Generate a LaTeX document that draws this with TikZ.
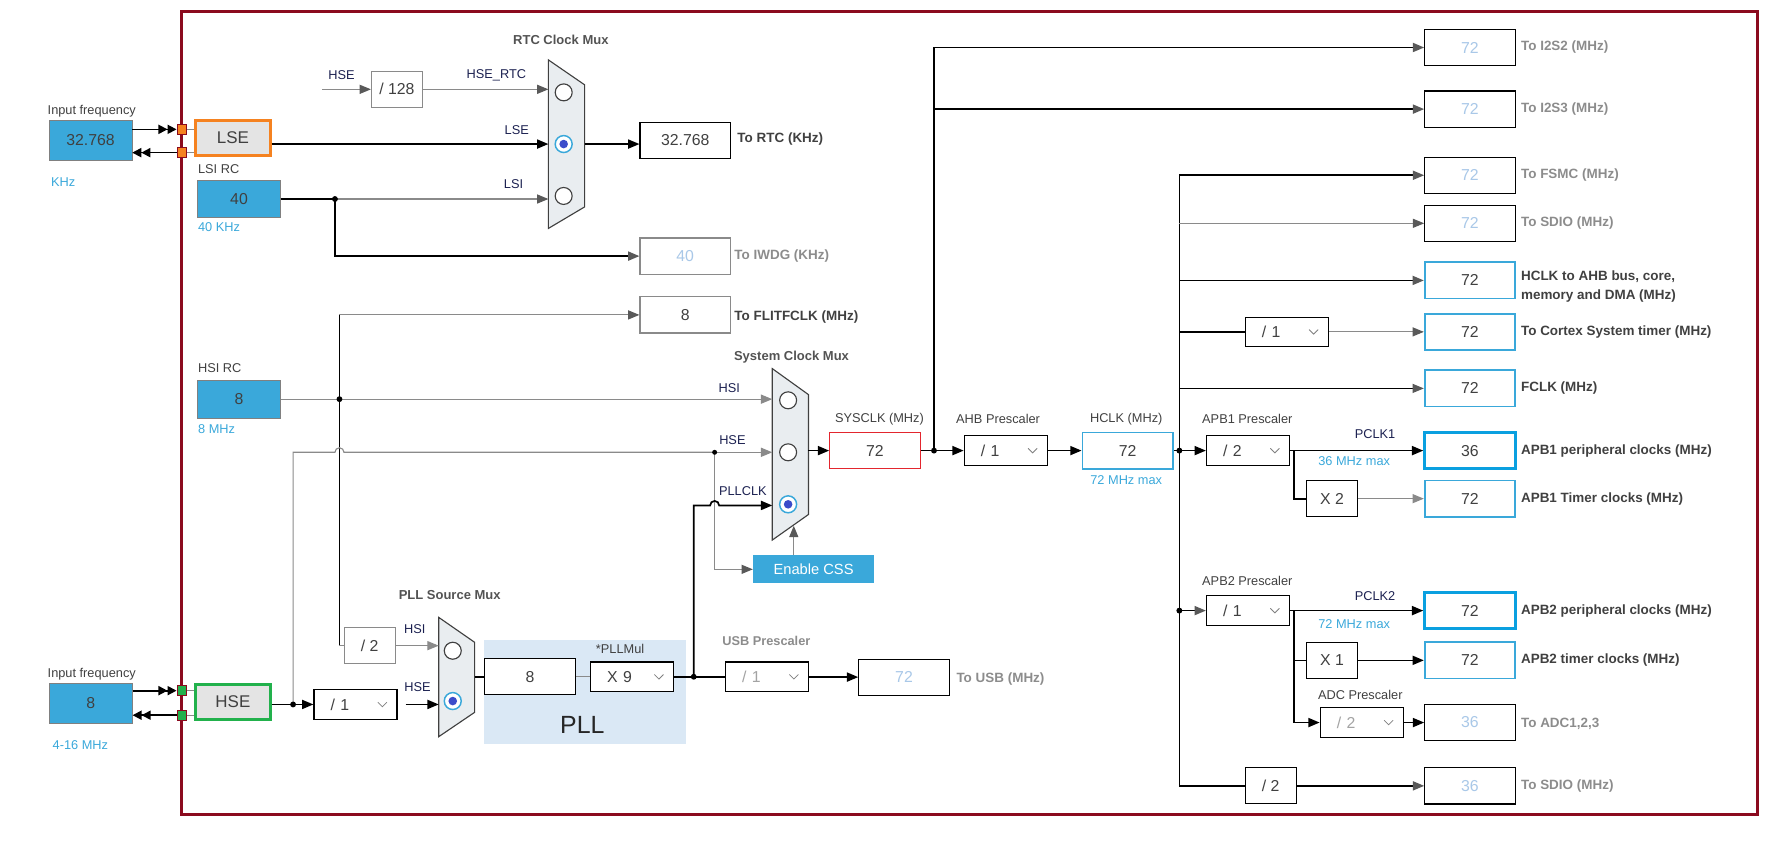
\documentclass[tikz,border=0pt]{standalone}
\usepackage{fontspec}
\setmainfont{Liberation Sans}
\usetikzlibrary{arrows.meta,positioning}
\definecolor{framered}{HTML}{8B0A1E}
\definecolor{stblue}{HTML}{3AA8DA}
\definecolor{valoff}{HTML}{A9C8E8}
\definecolor{lblgray}{HTML}{404040}
\definecolor{offgray}{HTML}{8C8C8C}
\definecolor{wire}{HTML}{8A8A8A}
\definecolor{tipgray}{HTML}{595959}
\definecolor{navy}{HTML}{1B2050}
\definecolor{muxfill}{HTML}{E9EDF0}
\definecolor{pllfill}{HTML}{DAE8F5}
\definecolor{lsecol}{HTML}{F58220}
\definecolor{hsecol}{HTML}{22B14C}
\definecolor{oscfill}{HTML}{E4E4E4}
\definecolor{sysred}{HTML}{E3262E}
\definecolor{pclkblue}{HTML}{0AA0E0}
\definecolor{selblue}{HTML}{3B4CCA}
\definecolor{chev}{HTML}{808080}
\begin{document}
\begin{tikzpicture}[x=1pt,y=-1pt,
    live/.style={line width=1.5pt},
    idle/.style={line width=1pt,draw=wire},
    arr/.style={-{Triangle[length=10pt,width=8pt]}},
    garr/.style={-{Triangle[length=10pt,width=8pt,color=tipgray]}},
    darr/.style={-{Triangle[length=8pt,width=8pt]Triangle[length=8pt,width=8pt]}},
    valbox/.style={draw,line width=1pt,fill=white,minimum width=80pt,minimum height=32pt,font=\fontsize{14}{14}\selectfont,text=lblgray},
    offbox/.style={valbox,text=valoff},
    outbox/.style={valbox,draw=stblue,line width=1.6pt},
    pclkbox/.style={valbox,draw=pclkblue,line width=2.6pt},
    srcbox/.style={draw=gray,fill=stblue,minimum width=73.5pt,minimum height=33pt,font=\fontsize{14}{14}\selectfont,text=lblgray},
    oscbox/.style={fill=oscfill,line width=2.6pt,minimum width=66pt,minimum height=31pt,font=\fontsize{15}{15}\selectfont,text=lblgray},
    padsq/.style={draw=framered,fill=#1,line width=0.8pt,minimum size=8.5pt},
    padsq/.default=lsecol,
    divbox/.style={draw,line width=0.9pt,fill=white,minimum width=45pt,minimum height=32pt,font=\fontsize{14}{14}\selectfont,text=lblgray},
    dropbox/.style={draw,line width=1pt,fill=white,minimum width=73.5pt,minimum height=26pt,text width=44pt,align=left,font=\fontsize{14}{14}\selectfont,text=lblgray,
      path picture={\draw[chev,line width=0.7pt] ([xshift=-17pt,yshift=2pt]path picture bounding box.east) -- ++(4pt,-4pt) -- ++(4pt,4pt);}},
    muxbody/.style={draw=darkgray,fill=muxfill,line width=1pt},
    muxring/.style={draw=darkgray,fill=white,line width=1pt},
    lbl/.style={font=\fontsize{11.3}{12}\selectfont,text=lblgray},
    sigtxt/.style={font=\fontsize{11.3}{12}\selectfont,text=navy},
    bluetxt/.style={font=\fontsize{11.3}{12}\selectfont,text=stblue},
    onlbl/.style={anchor=west,font=\fontsize{11.9}{16.5}\selectfont\bfseries,text=lblgray,align=left},
    offlbl/.style={anchor=west,font=\fontsize{11.9}{14}\selectfont\bfseries,text=offgray},
    muxtitle/.style={font=\fontsize{11.5}{12}\selectfont\bfseries,text=lblgray!90}]
    \tikzstyle{every node}+=[inner sep=0pt]
    \useasboundingbox (0,0) rectangle (1568,746);
    \draw[framered,line width=2.6pt] (160.8,10) rectangle (1554,720);
    \fill[pllfill] (428,566) rectangle (606.7,657.7);

    % oscillators
    \node[lbl,anchor=west] (tin1) at (42,98) {Input frequency};
    \node[srcbox,minimum height=36pt] (inlse) at (80,124) {32.768};
    \node[bluetxt,anchor=west] (tkhz) at (45,161) {KHz};
    \node[padsq] (pa) at (160.8,114.4) {};
    \node[padsq] (pb) at (160.8,135) {};
    \node[oscbox,draw=lsecol] (lse) at (206,122) {LSE};
    \node[lbl,anchor=west] (tlsi) at (175,149.6) {LSI RC};
    \node[srcbox] (lsi) at (211.4,176) {40};
    \node[bluetxt,anchor=west] (tlsik) at (175,201) {40 KHz};
    \node[lbl,anchor=west] (thsi) at (175,325.7) {HSI RC};
    \node[srcbox] (hsi) at (211.4,353) {8};
    \node[bluetxt,anchor=west] (thsim) at (175,379.7) {8 MHz};
    \node[lbl,anchor=west] (tin2) at (42,596) {Input frequency};
    \node[srcbox,minimum height=35.5pt] (inhse) at (80.3,621.8) {8};
    \node[bluetxt,anchor=west] (trange) at (46.4,659) {4-16 MHz};
    \node[padsq=hsecol] (pc) at (160.8,610.8) {};
    \node[padsq=hsecol] (pd) at (160.8,632.5) {};
    \node[oscbox,draw=hsecol] (hse) at (206,620.8) {HSE};

    % RTC mux
    \draw[muxbody] (485,53) -- (517,75) -- (517,183) -- (485,202) -- cycle;
    \draw[muxring] (498.5,81.7) circle (7.5pt);
    \draw[draw=stblue,fill=white,line width=1.3pt] (498.5,127.4) circle (7.5pt);
    \fill[selblue] (498.5,127.4) circle (3.8pt);
    \draw[muxring] (498.5,173.3) circle (7.5pt);
    \coordinate (rtcA) at (485,79);
    \coordinate (rtcB) at (485,127.4);
    \coordinate (rtcC) at (485,176);
    \coordinate (rtcO) at (517,127.4);
    \node[muxtitle] (trtcmux) at (496,35.4) {RTC Clock Mux};
    \coordinate (hseR) at (285,79);
    \node[divbox,draw=wire] (d128) at (351,79) {/ 128};
    \node[sigtxt] (thse1) at (302,66.3) {HSE};
    \node[sigtxt] (thsertc) at (439,66.3) {HSE\_RTC};
    \node[sigtxt] (tlse) at (457,115) {LSE};
    \node[sigtxt] (tlsi2) at (454.2,162.7) {LSI};
    \node[valbox] (rtc) at (606,124) {32.768};
    \node[onlbl] (trtc) at (652,123) {To RTC (KHz)};
    \node[offbox,draw=wire] (iwdg) at (606,226.5) {40};
    \node[offlbl] (tiwdg) at (649.3,226) {To IWDG (KHz)};
    \node[valbox,draw=wire] (flit) at (606,278.5) {8};
    \node[onlbl] (tflit) at (649.3,280.6) {To FLITFCLK (MHz)};

    % system mux
    \draw[muxbody] (683,326) -- (715,349) -- (715,455) -- (683,477.6) -- cycle;
    \draw[muxring] (697,354) circle (7.5pt);
    \draw[muxring] (697,400) circle (7.5pt);
    \draw[draw=stblue,fill=white,line width=1.3pt] (697,446) circle (7.5pt);
    \fill[selblue] (697,446) circle (3.8pt);
    \coordinate (sysA) at (683,353);
    \coordinate (sysB) at (683,400);
    \coordinate (sysC) at (683,447);
    \coordinate (sysO) at (715,398.5);
    \coordinate (sysS) at (702,465);
    \node[muxtitle] (tsysmux) at (700,316) {System Clock Mux};
    \node[sigtxt] (thsi2) at (645,343.5) {HSI};
    \node[sigtxt] (thse2) at (647.7,389) {HSE};
    \node[sigtxt] (tpllclk) at (657,434.3) {PLLCLK};
    \node[fill=stblue,minimum width=107pt,minimum height=25pt,text=white,font=\fontsize{13}{13}\selectfont] (css) at (719.5,503.5) {Enable CSS};
    \node[lbl] (tsysclk) at (777.8,370.6) {SYSCLK (MHz)};
    \node[valbox,draw=sysred] (sysclk) at (773.8,398.5) {72};
    \node[lbl] (tahbpre) at (882.7,370.6) {AHB Prescaler};
    \node[dropbox] (ahb) at (889.5,398.5) {/ 1};
    \node[lbl] (thclk) at (996,370.6) {HCLK (MHz)};
    \node[outbox] (hclk) at (997.3,398.5) {72};
    \node[bluetxt] (thclkmax) at (996,424.8) {72 MHz max};

    % PLL
    \draw[muxbody] (388,546) -- (419.7,568) -- (419.7,630) -- (388,651.5) -- cycle;
    \draw[muxring] (400.4,575.5) circle (7.5pt);
    \draw[draw=stblue,fill=white,line width=1.3pt] (400.4,620) circle (7.5pt);
    \fill[selblue] (400.4,620) circle (3.8pt);
    \coordinate (pmA) at (388,571);
    \coordinate (pmB) at (388,623);
    \coordinate (pmO) at (419.7,598.5);
    \node[muxtitle] (tpllmux) at (397.7,526) {PLL Source Mux};
    \node[divbox,draw=wire] (hsidiv) at (327,571) {/ 2};
    \node[dropbox] (pllsrc) at (314.4,623) {/ 1};
    \node[sigtxt] (thsi3) at (366.9,556.6) {HSI};
    \node[sigtxt] (thse3) at (369.3,607.9) {HSE};
    \node[valbox] (pll8) at (468.8,598.5) {8};
    \node[lbl] (tpllmul) at (548.4,573.7) {*PLLMul};
    \node[dropbox] (pllmul) at (559,598.5) {X 9};
    \node[font=\fontsize{22}{22}\selectfont,text=black!85] (tpll) at (515,641) {PLL};
    \node[offlbl,font=\fontsize{11.3}{12}\selectfont\bfseries] (tusbpre) at (638.6,567) {USB Prescaler};
    \node[dropbox,text=offgray!80] (usbdiv) at (678.3,598.5) {/ 1};
    \node[offbox] (usb) at (799.5,599) {72};
    \node[offlbl] (tusb) at (845.7,600.7) {To USB (MHz)};

    % outputs
    \node[offbox] (i2s2) at (1300,42) {72};
    \node[offlbl] (ti2s2) at (1345,42) {To I2S2 (MHz)};
    \node[offbox] (i2s3) at (1300,96.5) {72};
    \node[offlbl] (ti2s3) at (1345,96.5) {To I2S3 (MHz)};
    \node[offbox] (fsmc) at (1300,155) {72};
    \node[offlbl] (tfsmc) at (1345,155) {To FSMC (MHz)};
    \node[offbox] (sdio) at (1300,197.5) {72};
    \node[offlbl] (tsdio) at (1345,197.5) {To SDIO (MHz)};
    \node[outbox] (ahbout) at (1300,248) {72};
    \node[onlbl] (tahbout) at (1345,253.5) {HCLK to AHB bus, core,\\memory and DMA (MHz)};
    \node[dropbox] (systdiv) at (1138,293.5) {/ 1};
    \node[outbox] (cortex) at (1300,293.5) {72};
    \node[onlbl] (tcortex) at (1345,293.5) {To Cortex System timer (MHz)};
    \node[outbox] (fclk) at (1300,343.5) {72};
    \node[onlbl] (tfclk) at (1345,343.5) {FCLK (MHz)};
    \node[lbl,anchor=west] (tapb1pre) at (1063,370.7) {APB1 Prescaler};
    \node[dropbox] (apb1) at (1103.7,398.5) {/ 2};
    \node[sigtxt] (tpclk1) at (1216,384) {PCLK1};
    \node[bluetxt] (tapb1max) at (1197.6,407.4) {36 MHz max};
    \node[pclkbox] (apb1p) at (1300,398.5) {36};
    \node[onlbl] (tapb1p) at (1345,398.5) {APB1 peripheral clocks (MHz)};
    \node[divbox] (x2) at (1178,441) {X 2};
    \node[outbox] (apb1t) at (1300,441) {72};
    \node[onlbl] (tapb1t) at (1345,441) {APB1 Timer clocks (MHz)};
    \node[lbl,anchor=west] (tapb2pre) at (1063,513.6) {APB2 Prescaler};
    \node[dropbox] (apb2) at (1103.7,540) {/ 1};
    \node[sigtxt] (tpclk2) at (1216,527) {PCLK2};
    \node[bluetxt] (tapb2max) at (1197.6,552) {72 MHz max};
    \node[pclkbox] (apb2p) at (1300,540) {72};
    \node[onlbl] (tapb2p) at (1345,540) {APB2 peripheral clocks (MHz)};
    \node[divbox] (x1) at (1178,584) {X 1};
    \node[outbox] (apb2t) at (1300,584) {72};
    \node[onlbl] (tapb2t) at (1345,584) {APB2 timer clocks (MHz)};
    \node[lbl] (tadcpre) at (1203,614.8) {ADC Prescaler};
    \node[dropbox,text=offgray!80] (adcdiv) at (1204.3,639) {/ 2};
    \node[offbox] (adcout) at (1300,639) {36};
    \node[offlbl] (tadc) at (1345,640) {To ADC1,2,3};
    \node[divbox] (sdiodiv) at (1123.8,695) {/ 2};
    \node[offbox] (sdio2) at (1300,695) {36};
    \node[offlbl] (tsdio2) at (1345,695.5) {To SDIO (MHz)};

    % junctions
    \coordinate (jlsi) at (296.2,176);
    \coordinate (jhsi) at (300.2,353);
    \coordinate (vtop) at (300.2,278.5);
    \coordinate (vbot) at (300.2,571);
    \coordinate (jhse) at (259.2,623);
    \coordinate (jcss) at (632,400);
    \coordinate (jpll) at (613.5,598.5);
    \coordinate (jsys) at (826,398.5);
    \coordinate (jhclk) at (1043,398.5);
    \coordinate (japb2) at (1043,540);
    \coordinate (b1) at (1144.5,398.5);
    \coordinate (b2) at (1144.5,540);

    % wires
    \draw[live,darr] (inlse.east |- pa) -- (pa);
    \draw[live,darr] (pb) -- (inlse.east |- pb);
    \draw[idle] (pa) -- (lse.west |- pa);
    \draw[idle] (pb) -- (lse.west |- pb);
    \draw[live,darr] (inhse.east |- pc) -- (pc);
    \draw[live,darr] (pd) -- (inhse.east |- pd);
    \draw[idle] (pc) -- (hse.west |- pc);
    \draw[idle] (pd) -- (hse.west |- pd);
    \draw[idle,garr] (hseR) -- (d128);
    \draw[idle,garr] (d128) -- (rtcA);
    \draw[live,arr] (lse.east |- rtcB) -- (rtcB);
    \draw[live] (lsi) -- (jlsi);
    \draw[idle,garr] (jlsi) -- (rtcC);
    \draw[live,garr] (jlsi) |- (iwdg);
    \draw[live,arr] (rtcO) -- (rtc.west |- rtcO);
    \draw[idle,arr] (hsi) -- (sysA);
    \draw[live] (vtop) -- (vbot);
    \draw[idle,garr] (vtop) -- (flit);
    \draw[idle] (vbot) -- (hsidiv);
    \draw[idle,arr] (hsidiv) -- (pmA);
    \draw[live] (hse.east |- jhse) -- (jhse);
    \draw[live,arr] (jhse) -- (pllsrc);
    \draw[live,arr,shorten <=7pt] (pllsrc) -- (pmB);
    \draw[idle] (jhse) -- (jhse |- jcss) -- (296.2,400) arc[start angle=180,end angle=0,radius=4pt] -- (jcss);
    \draw[idle,arr] (jcss) -- (sysB);
    \draw[idle,garr] (jcss) |- (css);
    \draw[idle,garr] (css.north -| sysS) -- (sysS);
    \draw[live] (pmO) -- (pll8);
    \draw[idle] (pll8) -- (pllmul);
    \draw[live] (pllmul) -- (jpll);
    \draw[live] (jpll) -- (usbdiv);
    \draw[live,arr] (usbdiv) -- (usb);
    \draw[live,arr] (jpll) -- (jpll |- sysC) -- (628,447) arc[start angle=180,end angle=0,radius=4pt] -- (sysC);
    \draw[live,arr] (sysO) -- (sysclk);
    \draw[live] (sysclk) -- (jsys);
    \draw[live,arr] (jsys) -- (ahb);
    \draw[live,garr] (jsys) |- (i2s2);
    \draw[live,garr] (i2s3 -| jsys) -- (i2s3);
    \draw[live,arr] (ahb) -- (hclk);
    \draw[live] (hclk) -- (jhclk);
    \draw[live] (fsmc -| jhclk) -- (sdio2 -| jhclk) -- (sdiodiv);
    \draw[live,garr] (fsmc -| jhclk) -- (fsmc);
    \draw[idle,garr] (sdio -| jhclk) -- (sdio);
    \draw[live,garr] (ahbout -| jhclk) -- (ahbout);
    \draw[live] (systdiv -| jhclk) -- (systdiv);
    \draw[idle,garr] (systdiv) -- (cortex);
    \draw[line width=1pt,garr] (fclk -| jhclk) -- (fclk);
    \draw[live,arr] (jhclk) -- (apb1);
    \draw[live,arr] (apb1) -- (apb1p);
    \draw[live] (b1) |- (x2);
    \draw[idle,arr] (x2) -- (apb1t);
    \draw[live,garr] (japb2) -- (apb2);
    \draw[live,arr] (apb2) -- (apb2p);
    \draw[live] (b2) |- (x1);
    \draw[live,arr] (b2) |- (adcdiv);
    \draw[live,arr] (x1) -- (apb2t);
    \draw[live,arr] (adcdiv) -- (adcout);
    \draw[live,garr] (sdiodiv) -- (sdio2);

    \fill (jlsi) circle (2.6pt);
    \fill (jhsi) circle (2.6pt);
    \fill (jhse) circle (2.6pt);
    \fill (jcss) circle (2.2pt);
    \fill (jpll) circle (2.6pt);
    \fill (jsys) circle (2.6pt);
    \fill (jhclk) circle (2.6pt);
    \fill (japb2) circle (2.6pt);
\end{tikzpicture}
\end{document}
